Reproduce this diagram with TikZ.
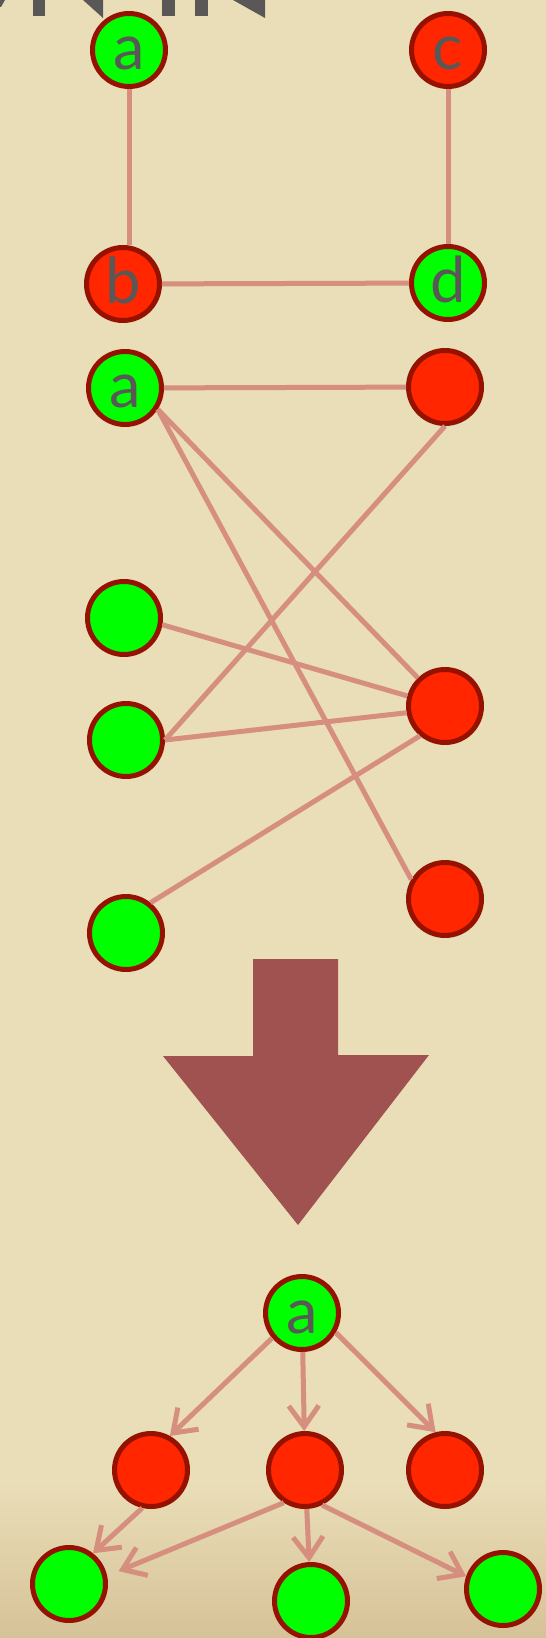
\documentclass[tikz,border=0pt]{standalone}
\usepackage{fontspec}
\setmainfont{Lato}
\usetikzlibrary{arrows.meta}
\definecolor{PaperClr}{RGB}{234,222,184}
\definecolor{PaperDark}{RGB}{214,194,152}
\definecolor{EdgeClr}{RGB}{214,142,126}
\definecolor{RimClr}{RGB}{150,18,0}
\definecolor{RedClr}{RGB}{255,38,0}
\definecolor{GreenClr}{RGB}{0,255,0}
\definecolor{InkClr}{RGB}{90,88,86}
\definecolor{ArrowClr}{RGB}{160,82,80}

\begin{document}
\begin{tikzpicture}[x=0.02cm,y=-0.02cm,
  vtx/.style={circle,draw=RimClr,line width=0.1cm,minimum size=1.46cm,inner sep=0pt,
    text=InkClr,font=\fontsize{36}{36}\selectfont,text height=0.8cm,text depth=0cm},
  gv/.style={vtx,fill=GreenClr},
  rv/.style={vtx,fill=RedClr},
  edge/.style={draw=EdgeClr,line width=0.1cm},
  dir/.style={edge,-{Straight Barb[length=0.42cm,width=0.6cm]}}]

\fill[PaperClr] (0,0) rectangle (546,1638);
\shade[top color=PaperClr,bottom color=PaperDark] (0,1480) rectangle (546,1638);
\useasboundingbox (0,0) rectangle (546,1638);

\fill[InkClr] (0,0) -- (5,0) -- (1,7) -- (0,7) -- cycle;
\fill[InkClr] (33,0) rectangle (45,16);
\fill[InkClr] (83,0) -- (103,0) -- (103,18) -- cycle;
\fill[InkClr] (162,0) rectangle (175,16);
\fill[InkClr] (195,0) rectangle (208,16);
\fill[InkClr] (233,0) -- (265,0) -- (265,18) -- cycle;

\node[gv] (a1) at (129,50) {a};
\node[rv] (c) at (448,50) {c};
\node[rv] (b) at (123,284) {b};
\node[gv] (d) at (448,283) {d};

\draw[edge] (a1.south) -- (a1.south |- b.north);
\draw[edge] (c) -- (d);
\draw[edge] (b) -- (d);

\node[gv] (a2) at (125,388) {a};
\node[rv] (r1) at (445,387) {};
\node[gv] (g2) at (124,618) {};
\node[gv] (g3) at (126,740) {};
\node[rv] (r2) at (445,706) {};
\node[rv] (r3) at (445,899) {};
\node[gv] (g4) at (126,933) {};

\draw[edge] (a2) -- (r1);
\draw[edge] (a2.-33) -- (r2);
\draw[edge] (a2.-33) -- (r3.150);
\draw[edge] (r1.south) -- (g3.east);
\draw[edge] (g2.-10) -- (r2.165);
\draw[edge] (g3.east) -- (r2.190);
\draw[edge] (g4.51) -- (r2.230);

\fill[ArrowClr] (253,959) -- (338,959) -- (338,1055) -- (429,1055) -- (298,1225)
  -- (163,1056) -- (253,1056) -- cycle;

\node[gv] (t) at (302,1313) {a};
\node[rv] (r4) at (151,1470) {};
\node[rv] (r5) at (305,1470) {};
\node[rv] (r6) at (445,1470) {};
\node[gv] (g5) at (69,1584) {};
\node[gv] (g6) at (311,1601) {};
\node[gv] (g7) at (503,1589) {};

\draw[dir] (t.220) -- (r4.61);
\draw[dir] (t) -- (r5);
\draw[dir] (t.-30) -- (r6.104);
\draw[dir] (r4.257) -- (g5.52);
\draw[dir,shorten >=0.25cm] (r5.237) -- (g5.12);
\draw[dir] (r5) -- (g6);
\draw[dir] (r5.-64) -- (g7.161);

\end{tikzpicture}
\end{document}
